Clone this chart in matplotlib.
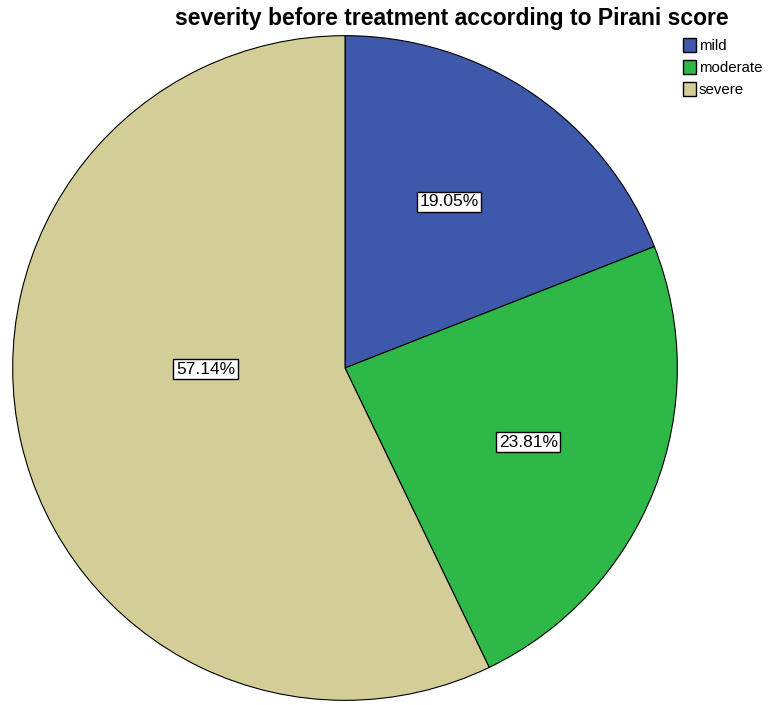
import numpy as np
import matplotlib.pyplot as plt
from matplotlib.patches import Patch

plt.rcParams['font.family'] = ['Liberation Sans', 'DejaVu Sans']

categories = ['mild', 'moderate', 'severe']
counts = [4, 5, 12]
colors = ['#3e58ac', '#2eb848', '#d3ce97']
# label placement (angle in degrees, radius as fraction of pie radius)
label_angles = [58, -22, 180.5]
label_radii = [0.59, 0.595, 0.42]

fig = plt.figure(figsize=(7.68, 7.05), dpi=100)
ax = fig.add_axes([12 / 768, 4 / 705, 666 / 768, 666 / 705])

wedges, _ = ax.pie(counts, colors=colors, startangle=90, counterclock=False,
                   radius=1, wedgeprops=dict(edgecolor='black', linewidth=0.8))
ax.set_xlim(-1.002, 1.002)
ax.set_ylim(-1.002, 1.002)
ax.set_aspect('equal')
ax.axis('off')

total = sum(counts)
for c, a, r in zip(counts, label_angles, label_radii):
    t = np.deg2rad(a)
    ax.text(r * np.cos(t), r * np.sin(t), '%.2f%%' % (100 * c / total),
            ha='center', va='center', fontsize=12.5,
            bbox=dict(boxstyle='square,pad=0.15', facecolor='white',
                      edgecolor='black', linewidth=1.0))

fig.text(452 / 768, 1 - 18 / 705, 'severity before treatment according to Pirani score',
         ha='center', va='center', fontsize=16.5, fontweight='bold')

handles = [Patch(facecolor=col, edgecolor='black', label=lab)
           for col, lab in zip(colors, categories)]
fig.legend(handles=handles, loc='upper left', bbox_to_anchor=(683 / 768, 1 - 38 / 705),
           frameon=False, fontsize=10.8, handlelength=0.85, handleheight=1.05,
           handletextpad=0.2, labelspacing=0.45, borderpad=0, borderaxespad=0)

fig.savefig('out.png', dpi=100)
